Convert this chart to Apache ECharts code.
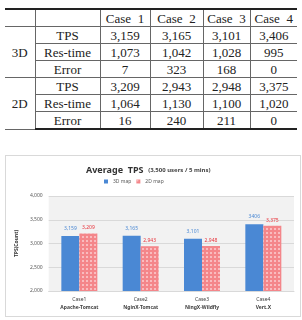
<!DOCTYPE html>
<html>
<head>
<meta charset="utf-8">
<script src="https://cdn.jsdelivr.net/npm/echarts@6/dist/echarts.min.js"></script>
<style>
  html, body { margin: 0; padding: 0; background: #fff; }
  body { width: 302px; height: 320px; position: relative; overflow: hidden; }
  #tbl { position: absolute; left: 5px; top: 8px; width: 292px; border-collapse: collapse; }
  #tbl td { font-family: "Liberation Serif", "DejaVu Serif", serif; font-size: 13px; color: #222;
            border: 1px solid #666; height: 16px; padding: 0; text-align: center; line-height: 15px; }
  #tbl tr:first-child td { border-top: 2px solid #222; }
  #tbl tr:last-child td { border-bottom: 2px solid #222; }
  #tbl td:first-child { border-left: none; }
  #tbl td:last-child { border-right: none; }
  #chart { position: absolute; left: 5px; top: 155px; width: 296px; height: 162px;
           border: 1px solid #d9d9d9; box-sizing: border-box; }
</style>
</head>
<body>
<table id="tbl"></table>
<div id="chart"></div>
<script>
// table data
var caseNames = ['Case  1', 'Case  2', 'Case  3', 'Case  4'];
var metricNames = ['TPS', 'Res-time', 'Error'];
var rows3D = [['3,159', '3,165', '3,101', '3,406'], ['1,073', '1,042', '1,028', '995'], ['7', '323', '168', '0']];
var rows2D = [['3,209', '2,943', '2,948', '3,375'], ['1,064', '1,130', '1,100', '1,020'], ['16', '240', '211', '0']];

// chart data
var categories = ['Case1', 'Case2', 'Case3', 'Case4'];
var subNames = ['Apache-Tomcat', 'NginX-Tomcat', 'NingX-Wildfly', 'Vert.X'];
var tps3D = [3159, 3165, 3101, 3406];
var tps2D = [3209, 2943, 2948, 3375];
var labels3D = ['3,159', '3,165', '3,101', '3406'];
var labels2D = ['3,209', '2,943', '2,948', '3,375'];

function buildTable() {
    var html = '<colgroup><col style="width:30px"><col style="width:65px"><col style="width:50px"><col style="width:53px"><col style="width:47px"><col style="width:47px"></colgroup>';
    html += '<tr><td></td><td></td>';
    for (var i = 0; i < caseNames.length; i++) html += '<td>' + caseNames[i].replace(/ /g, '&nbsp;') + '</td>';
    html += '</tr>';
    var groups = [['3D', rows3D], ['2D', rows2D]];
    for (var g = 0; g < groups.length; g++) {
        for (var r = 0; r < metricNames.length; r++) {
            html += '<tr>';
            if (r == 0) html += '<td rowspan="3">' + groups[g][0] + '</td>';
            html += '<td>' + metricNames[r] + '</td>';
            for (var c = 0; c < 4; c++) html += '<td>' + groups[g][1][r][c] + '</td>';
            html += '</tr>';
        }
    }
    document.getElementById('tbl').innerHTML = html;
}
buildTable();

var font = '"Noto Sans", "DejaVu Sans", sans-serif';
var chart = echarts.init(document.getElementById('chart'));
var redDecal = {
    symbol: 'rect',
    color: 'rgba(255,255,255,0.45)',
    symbolSize: 1,
    dashArrayX: [2, 2],
    dashArrayY: [2, 2],
    rotation: 0
};
chart.setOption({
    animation: false,
    textStyle: {fontFamily: font},
    title: {
        left: 80,
        top: 5,
        padding: 0,
        text: '{a|Average  TPS} {b|(3,500 users / 5 mins)}',
        textStyle: {
            rich: {
                a: {fontFamily: font, fontSize: 9, fontWeight: 'bold', color: '#333'},
                b: {fontFamily: font, fontSize: 6, fontWeight: 'bold', color: '#444'}
            }
        }
    },
    legend: {
        top: 23,
        left: 98,
        padding: 0,
        itemWidth: 4,
        itemHeight: 4,
        itemGap: 5,
        icon: 'rect',
        textStyle: {fontSize: 5, color: '#595959'},
        data: ['3D map', '2D map']
    },
    grid: {left: 34, right: 6, top: 40, bottom: 25, show: true, backgroundColor: '#f2f2f2', borderWidth: 0},
    xAxis: {
        type: 'category',
        data: categories,
        axisLine: {lineStyle: {color: '#d9d9d9'}},
        axisTick: {show: false},
        axisLabel: {
            interval: 0,
            fontSize: 5,
            color: '#404040',
            margin: 5,
            lineHeight: 8,
            formatter: function (v, i) {
                return v + '\n{s|' + subNames[i] + '}';
            },
            rich: {s: {fontSize: 5, fontWeight: 'bold', color: '#404040', lineHeight: 8}}
        }
    },
    yAxis: {
        type: 'value',
        min: 2000,
        max: 4000,
        interval: 500,
        name: 'TPS(Count)',
        nameLocation: 'middle',
        nameGap: 22,
        nameTextStyle: {fontSize: 5, fontWeight: 'bold', color: '#333'},
        axisLine: {show: false},
        axisTick: {show: false},
        splitLine: {lineStyle: {color: '#d9d9d9', width: 1}},
        axisLabel: {
            fontSize: 5,
            color: '#595959',
            margin: 6,
            formatter: function (v) { return v.toLocaleString('en-US'); }
        }
    },
    series: [
        {
            name: '3D map',
            type: 'bar',
            data: tps3D,
            barWidth: 18,
            barGap: '0%',
            itemStyle: {color: '#4a88d4'},
            label: {
                show: true, position: 'top', distance: 5, fontSize: 5, color: '#4a88d4',
                formatter: function (p) { return labels3D[p.dataIndex]; }
            }
        },
        {
            name: '2D map',
            type: 'bar',
            data: tps2D,
            barWidth: 18,
            itemStyle: {color: '#f4868a', decal: redDecal},
            label: {
                show: true, position: 'top', distance: 3, fontSize: 5, color: '#e8343c',
                formatter: function (p) { return labels2D[p.dataIndex]; }
            }
        }
    ]
});
</script>
</body>
</html>
